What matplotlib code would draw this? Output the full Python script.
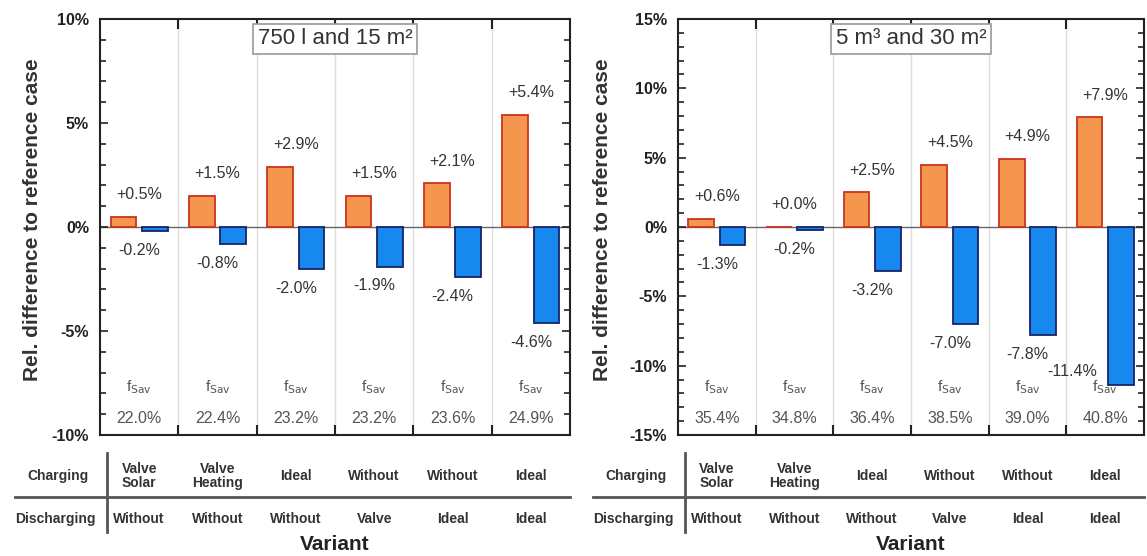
import matplotlib
matplotlib.use("Agg")
import matplotlib.pyplot as plt
import matplotlib.transforms as mtransforms
from matplotlib.lines import Line2D
from matplotlib.ticker import MultipleLocator, FuncFormatter
import numpy as np

plt.rcParams['font.family'] = ['Liberation Sans', 'DejaVu Sans']

# ---------------- data ----------------
charging = ["Valve\nSolar", "Valve\nHeating", "Ideal", "Without", "Without", "Ideal"]
discharging = ["Without", "Without", "Without", "Valve", "Ideal", "Ideal"]

left_title = "750 l and 15 m²"
left_pos = [0.5, 1.5, 2.9, 1.5, 2.1, 5.4]
left_neg = [-0.2, -0.8, -2.0, -1.9, -2.4, -4.6]
left_fsav = [22.0, 22.4, 23.2, 23.2, 23.6, 24.9]
left_ylim = (-10, 10)

right_title = "5 m³ and 30 m²"
right_pos = [0.6, 0.0, 2.5, 4.5, 4.9, 7.9]
right_neg = [-1.3, -0.2, -3.2, -7.0, -7.8, -11.4]
right_fsav = [35.4, 34.8, 36.4, 38.5, 39.0, 40.8]
right_ylim = (-15, 15)

ylabel = "Rel. difference to reference case"
xlabel = "Variant"

# ---------------- style ----------------
ORANGE = "#F5964F"
ORANGE_EDGE = "#C8341E"
BLUE = "#1688EE"
BLUE_EDGE = "#16236A"
TXT = "#333333"

W, H = 1147, 556
fig = plt.figure(figsize=(W / 100, H / 100), dpi=100)


def fx(px):
    return px / W


def fy(py):
    return 1 - py / H


def panel(left_px, right_px, pos, neg, fsav, ylim, title, ylabel_x_px, special_left=False):
    ax = fig.add_axes([fx(left_px), fy(435), fx(right_px - left_px), fy(19) - fy(435)])
    n = len(pos)
    x = np.arange(n)
    bw = 0.33
    off = 0.2
    ax.axhline(0, color="#666666", lw=1.0, zorder=1)
    for s in np.arange(0.5, n - 0.5, 1.0):
        ax.axvline(s, color="#dddddd", lw=1.0, zorder=0)
    ax.bar(x - off, pos, bw, color=ORANGE, edgecolor=ORANGE_EDGE, linewidth=1.3, zorder=3)
    ax.bar(x + off, neg, bw, color=BLUE, edgecolor=BLUE_EDGE, linewidth=1.3, zorder=3)
    ax.set_xlim(-0.5, n - 0.5)
    ax.set_ylim(*ylim)

    for i in range(n):
        ax.annotate(f"+{pos[i]:.1f}%", (x[i], pos[i]), xytext=(0, 16),
                    textcoords="offset points", ha="center", va="center",
                    fontsize=11.5, color=TXT, zorder=5)
        dx, dy = 0, -14
        if special_left and i == n - 1:
            dx, dy = -24, 10
        ax.annotate(f"{neg[i]:.1f}%", (x[i], neg[i]),
                    xytext=(dx, dy), textcoords="offset points",
                    ha="center", va="center", fontsize=11.5, color=TXT, zorder=5)
        tr = mtransforms.blended_transform_factory(ax.transData, ax.transAxes)
        ax.text(x[i], 0.115, r"f$_{\mathrm{Sav}}$", transform=tr, ha="center",
                va="center", fontsize=11, color="#555555")
        ax.text(x[i], 0.04, f"{fsav[i]:.1f}%", transform=tr, ha="center",
                va="center", fontsize=11.5, color="#555555")

    ax.text(0.5, 0.978, title, transform=ax.transAxes, ha="center", va="top",
            fontsize=16, color=TXT, zorder=6,
            bbox=dict(boxstyle="square,pad=0.2", fc="white", ec="#999999", lw=1.2))

    ax.yaxis.set_major_locator(MultipleLocator(5))
    ax.yaxis.set_minor_locator(MultipleLocator(1))
    ax.yaxis.set_major_formatter(FuncFormatter(lambda v, p: f"{v:.0f}%"))
    ax.set_xticks(np.arange(0.5, n - 0.5, 1.0))
    ax.set_xticklabels([])
    ax.tick_params(axis="y", which="both", direction="in", left=True, right=True,
                   labelsize=11.5, colors="#222222", width=1.2, pad=8)
    ax.tick_params(axis="y", which="major", length=6)
    ax.tick_params(axis="y", which="minor", length=4)
    ax.tick_params(axis="x", direction="in", top=True, bottom=True, length=7, width=1.5,
                   color="#222222")
    for lab in ax.get_yticklabels():
        lab.set_fontweight("bold")
    for sp in ax.spines.values():
        sp.set_linewidth(1.5)
        sp.set_color("#222222")

    fig.text(fx(ylabel_x_px), fy(220), ylabel, rotation=90, ha="center", va="center",
             fontsize=15, fontweight="bold", color="#333333")

    # table below the axes
    trb = mtransforms.blended_transform_factory(ax.transData, fig.transFigure)
    for i in range(n):
        ax.text(x[i], fy(476), charging[i], transform=trb, ha="center", va="center",
                fontsize=10, fontweight="bold", color=TXT, linespacing=1.0)
        ax.text(x[i], fy(519), discharging[i], transform=trb, ha="center", va="center",
                fontsize=10, fontweight="bold", color=TXT)
    col_x = left_px - 42
    fig.text(fx(col_x), fy(476), "Charging", ha="center", va="center",
             fontsize=10, fontweight="bold", color=TXT)
    fig.text(fx(col_x - 3), fy(519), "Discharging", ha="center", va="center",
             fontsize=10, fontweight="bold", color=TXT)
    fig.add_artist(Line2D([fx(left_px - 85), fx(right_px)], [fy(497), fy(497)],
                          color="#555555", lw=2.0))
    fig.add_artist(Line2D([fx(left_px + 7), fx(left_px + 7)], [fy(453), fy(532)],
                          color="#555555", lw=2.0))
    fig.text(fx((left_px + right_px) / 2), fy(545), xlabel, ha="center", va="center",
             fontsize=15, fontweight="bold", color="#222222")
    return ax


panel(100, 570, left_pos, left_neg, left_fsav, left_ylim, left_title, 33)
panel(678, 1144, right_pos, right_neg, right_fsav, right_ylim, right_title, 603,
      special_left=True)

fig.savefig("out.png", dpi=100, facecolor="white")
